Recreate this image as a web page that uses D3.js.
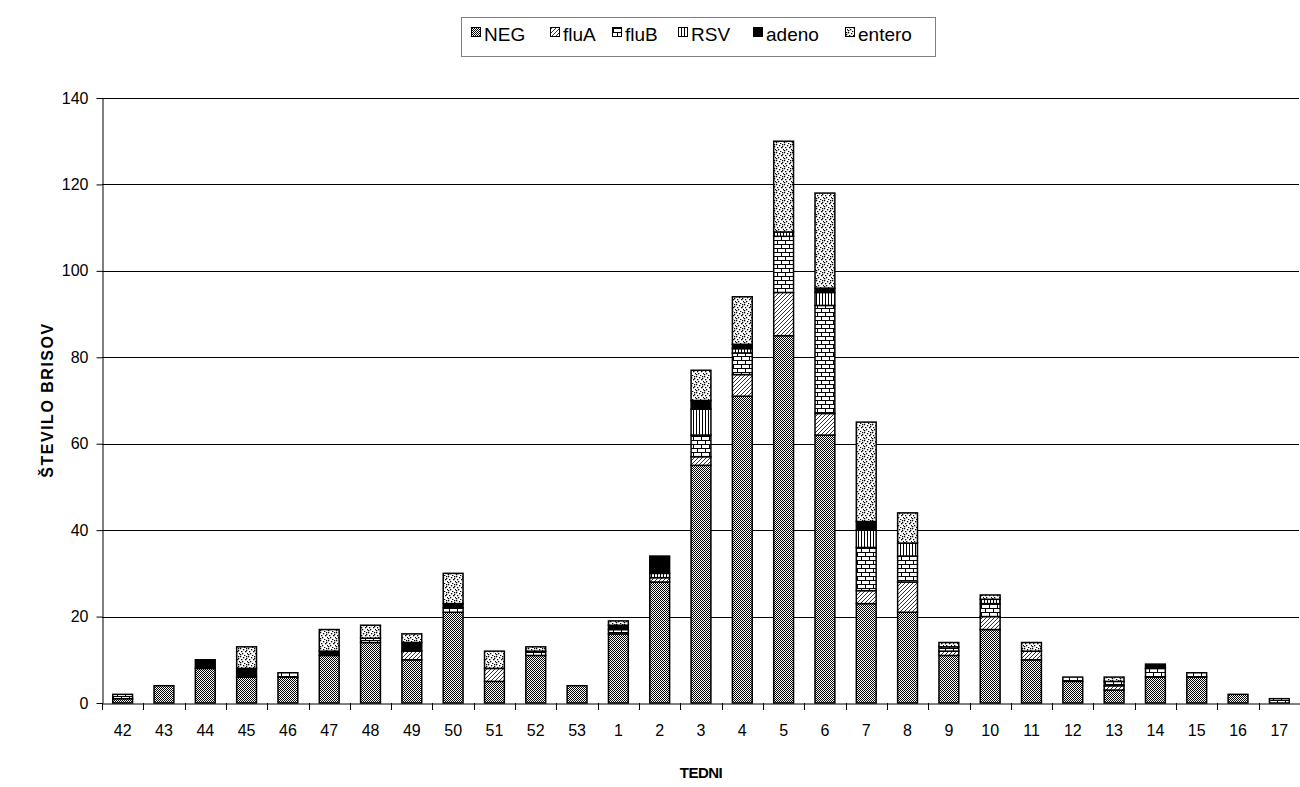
<!DOCTYPE html>
<html><head><meta charset="utf-8">
<script src="https://cdn.jsdelivr.net/npm/d3@7"></script>
<style>
html,body{margin:0;padding:0;background:#fff;}
svg{display:block;font-family:"Liberation Sans",Arial,sans-serif;}
</style></head>
<body><svg id="chart" width="1300" height="787"></svg>
<script>
const weeks = ["42","43","44","45","46","47","48","49","50","51","52","53","1","2","3","4","5","6","7","8","9","10","11","12","13","14","15","16","17"];
const seriesNames = ["NEG","fluA","fluB","RSV","adeno","entero"];
const NEG    = [1,4,8,6,6,11,14,10,21,5,11,4,16,28,55,71,85,62,23,21,11,17,10,5,3,6,6,2,0];
const fluA   = [0,0,0,0,0,0,0,2,0,3,0,0,0,1,2,5,10,5,3,7,1,3,2,0,1,0,0,0,0];
const fluB   = [1,0,0,0,1,0,1,0,1,0,1,0,1,0,5,5,13,25,10,6,1,3,0,1,1,2,1,0,1];
const RSV    = [0,0,0,0,0,0,0,0,0,0,0,0,0,1,6,1,1,3,4,3,0,1,0,0,0,0,0,0,0];
const adeno  = [0,0,2,2,0,1,0,2,1,0,0,0,1,4,2,1,0,1,2,0,0,0,0,0,0,1,0,0,0];
const entero = [0,0,0,5,0,5,3,2,7,4,1,0,1,0,7,11,21,22,23,7,1,1,2,0,1,0,0,0,0];
const yTicks = [0,20,40,60,80,100,120,140];

(function(){
const seriesData = {NEG, fluA, fluB, RSV, adeno, entero};
const rows = weeks.map((w,i)=>{const r={week:w}; seriesNames.forEach(s=>r[s]=seriesData[s][i]); return r;});

const svg = d3.select("#chart");
const defs = svg.append("defs");

let p = defs.append("pattern").attr("id","p-NEG").attr("patternUnits","userSpaceOnUse").attr("width",2).attr("height",2);
p.append("rect").attr("width",2).attr("height",2).attr("fill","#fff");
p.append("rect").attr("x",0).attr("y",0).attr("width",1).attr("height",1).attr("fill","#000");
p.append("rect").attr("x",1).attr("y",1).attr("width",1).attr("height",1).attr("fill","#000");

p = defs.append("pattern").attr("id","p-fluA").attr("patternUnits","userSpaceOnUse").attr("width",4).attr("height",4);
p.append("rect").attr("width",4).attr("height",4).attr("fill","#fff");
p.append("path").attr("d","M-1,1 L1,-1 M0,4 L4,0 M3,5 L5,3").attr("stroke","#000").attr("stroke-width",0.8);

p = defs.append("pattern").attr("id","p-fluB").attr("patternUnits","userSpaceOnUse").attr("width",8).attr("height",8);
p.append("rect").attr("width",8).attr("height",8).attr("fill","#fff");
p.append("path").attr("d","M0,0.5 H8 M0,4.5 H8 M1.5,0.5 V4.5 M5.5,4.5 V8").attr("stroke","#000").attr("stroke-width",1);

p = defs.append("pattern").attr("id","p-RSV").attr("patternUnits","userSpaceOnUse").attr("width",3).attr("height",3);
p.append("rect").attr("width",3).attr("height",3).attr("fill","#fff");
p.append("rect").attr("x",0).attr("y",0).attr("width",1).attr("height",3).attr("fill","#000");

p = defs.append("pattern").attr("id","p-adeno").attr("patternUnits","userSpaceOnUse").attr("width",2).attr("height",2);
p.append("rect").attr("width",2).attr("height",2).attr("fill","#000");

p = defs.append("pattern").attr("id","p-entero").attr("patternUnits","userSpaceOnUse").attr("width",8).attr("height",8);
p.append("rect").attr("width",8).attr("height",8).attr("fill","#fff");
[[0,0],[3,1],[6,0],[1,3],[5,3],[2,5],[7,5],[0,6],[4,7],[6,2]].forEach(([a,b])=>{
  p.append("rect").attr("x",a).attr("y",b).attr("width",1.3).attr("height",1.3).attr("fill","#000");
});

const pLeft = 102, pRight = 1300, pTop = 98, pBottom = 703;
const x = d3.scaleBand().domain(weeks).range([pLeft,pRight]).paddingInner(0.52).paddingOuter(0.26);
const xb = d3.scaleBand().domain(weeks).range([pLeft,pRight]);
const y = d3.scaleLinear().domain([0,140]).range([pBottom,pTop]);

svg.append("g").selectAll("line").data(yTicks.filter(d=>d>0)).join("line")
  .attr("x1",pLeft).attr("x2",pRight-1).attr("y1",d=>Math.round(y(d))+0.5).attr("y2",d=>Math.round(y(d))+0.5)
  .attr("stroke","#000").attr("stroke-width",1);

const stack = d3.stack().keys(seriesNames)(rows);
const gb = svg.append("g");
stack.forEach(layer=>{
  gb.append("g").selectAll("rect").data(layer.filter(d=>d[1]-d[0]>0)).join("rect")
    .attr("x",d=>x(d.data.week)).attr("width",x.bandwidth())
    .attr("y",d=>y(d[1])).attr("height",d=>y(d[0])-y(d[1]))
    .attr("fill",`url(#p-${layer.key})`).attr("stroke","#000").attr("stroke-width",1.5);
});

const yAxis = svg.append("g").attr("transform",`translate(${pLeft+0.5},0)`)
  .call(d3.axisLeft(y).tickValues(yTicks).tickSize(6).tickSizeOuter(0).tickPadding(8));
yAxis.select(".domain").attr("stroke","#000");
yAxis.selectAll("line").attr("stroke","#000");
yAxis.selectAll("text").attr("font-size",16).attr("fill","#000").attr("font-family","Liberation Sans, Arial, sans-serif");

const xAxis = svg.append("g").attr("transform",`translate(0,${pBottom+0.5})`)
  .call(d3.axisBottom(xb).tickSize(0).tickPadding(21).tickSizeOuter(0));
xAxis.select(".domain").attr("stroke","#000");
xAxis.selectAll("text").attr("font-size",16).attr("fill","#000").attr("font-family","Liberation Sans, Arial, sans-serif");
svg.append("g").selectAll("line").data(weeks).join("line")
  .attr("x1",d=>Math.round(xb(d)+xb.bandwidth())+0.5)
  .attr("x2",d=>Math.round(xb(d)+xb.bandwidth())+0.5)
  .attr("y1",pBottom).attr("y2",pBottom+7).attr("stroke","#000");
svg.append("line").attr("x1",pLeft+0.5).attr("x2",pLeft+0.5).attr("y1",pBottom).attr("y2",pBottom+7).attr("stroke","#000");

svg.append("text").attr("x",701).attr("y",778).attr("text-anchor","middle")
  .attr("font-size",15).attr("font-weight","bold").attr("letter-spacing",-0.5).text("TEDNI");
svg.append("text").attr("transform","translate(53,400) rotate(-90)").attr("text-anchor","middle")
  .attr("font-size",16).attr("font-weight","bold").attr("letter-spacing",1.5).text("ŠTEVILO BRISOV");

const lg = svg.append("g");
lg.append("rect").attr("x",461.5).attr("y",17.5).attr("width",474).attr("height",39)
  .attr("fill","#fff").attr("stroke","#808080").attr("stroke-width",1);
const swX = [471, 550, 612, 678, 753, 845];
seriesNames.forEach((s,i)=>{
  lg.append("rect").attr("x",swX[i]+0.5).attr("y",27.5).attr("width",9).attr("height",9)
    .attr("fill",`url(#p-${s})`).attr("stroke","#000").attr("stroke-width",1);
  lg.append("text").attr("x",swX[i]+13).attr("y",41).attr("font-size",19).text(s);
});
})();
</script></body></html>
